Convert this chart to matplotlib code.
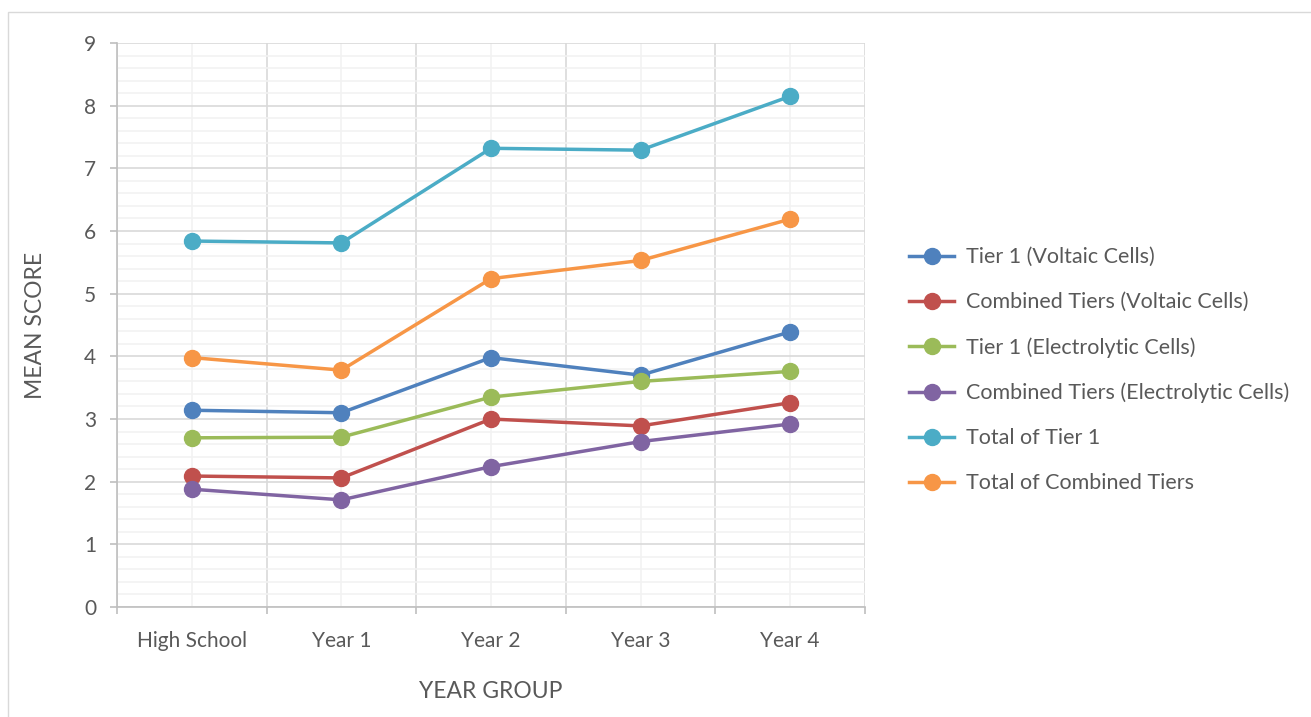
import numpy as np
import matplotlib.pyplot as plt
from matplotlib.patches import Rectangle

groups = ['High School', 'Year 1', 'Year 2', 'Year 3', 'Year 4']
tier1_voltaic = [3.14, 3.10, 3.98, 3.70, 4.39]
combined_voltaic = [2.09, 2.06, 3.00, 2.89, 3.26]
tier1_electro = [2.70, 2.71, 3.35, 3.60, 3.76]
combined_electro = [1.88, 1.71, 2.24, 2.64, 2.92]
total_tier1 = [5.84, 5.81, 7.32, 7.29, 8.15]
total_combined = [3.98, 3.78, 5.24, 5.53, 6.19]

series = [
    ('Tier 1 (Voltaic Cells)', tier1_voltaic, '#4F81BD'),
    ('Combined Tiers (Voltaic Cells)', combined_voltaic, '#C0504D'),
    ('Tier 1 (Electrolytic Cells)', tier1_electro, '#9BBB59'),
    ('Combined Tiers (Electrolytic Cells)', combined_electro, '#8064A2'),
    ('Total of Tier 1', total_tier1, '#4BACC6'),
    ('Total of Combined Tiers', total_combined, '#F79646'),
]

plt.rcParams['font.family'] = ['Lato', 'DejaVu Sans']
txt = '#595959'

fig = plt.figure(figsize=(13.11, 7.17), dpi=100)
fig.patches.append(Rectangle((0.006, -0.01), 1.0, 0.993, transform=fig.transFigure,
                             fill=False, edgecolor='#D9D9D9', linewidth=1))
ax = fig.add_axes([0.0892, 0.1534, 0.5706, 0.7866])

x = np.arange(len(groups))
for name, vals, col in series:
    ax.plot(x, vals, color=col, linewidth=2.5, marker='o', markersize=11.5,
            label=name, zorder=3)

ax.set_xlim(-0.5, 4.5)
ax.set_ylim(0, 9)
ax.set_yticks(np.arange(0, 10, 1))
ax.set_yticks(np.arange(0, 9.01, 0.2), minor=True)
ax.set_xticks(np.arange(-0.5, 5, 1))
ax.set_xticklabels([])
ax.set_xticks(x, minor=True)
ax.set_xticklabels(groups, minor=True)

ax.grid(which='major', color='#D9D9D9', linewidth=1.2, zorder=1)
ax.grid(which='minor', color='#F2F2F2', linewidth=1.2, zorder=0)
ax.set_axisbelow(True)

for s in ['top', 'right']:
    ax.spines[s].set_visible(False)
ax.spines['left'].set_color('#BFBFBF')
ax.spines['bottom'].set_color('#BFBFBF')
ax.spines['left'].set_linewidth(1.2)
ax.spines['bottom'].set_linewidth(1.2)

ax.tick_params(axis='both', which='major', color='#BFBFBF', length=5, width=1.2,
               labelcolor=txt, labelsize=15)
ax.tick_params(axis='x', which='minor', length=0, labelcolor=txt, labelsize=15, pad=17)
ax.tick_params(axis='y', which='minor', length=0)
ax.tick_params(axis='y', which='major', pad=10)

ax.set_xlabel('YEAR GROUP', color=txt, fontsize=16.5, labelpad=22)
ax.set_ylabel('MEAN SCORE', color=txt, fontsize=16.5, labelpad=27)

leg = ax.legend(loc='center left', bbox_to_anchor=(1.033, 0.42), frameon=False,
                fontsize=15.5, labelcolor=txt, handlelength=2.1, handletextpad=0.55,
                labelspacing=1.16)

fig.savefig('out.png', dpi=100)
